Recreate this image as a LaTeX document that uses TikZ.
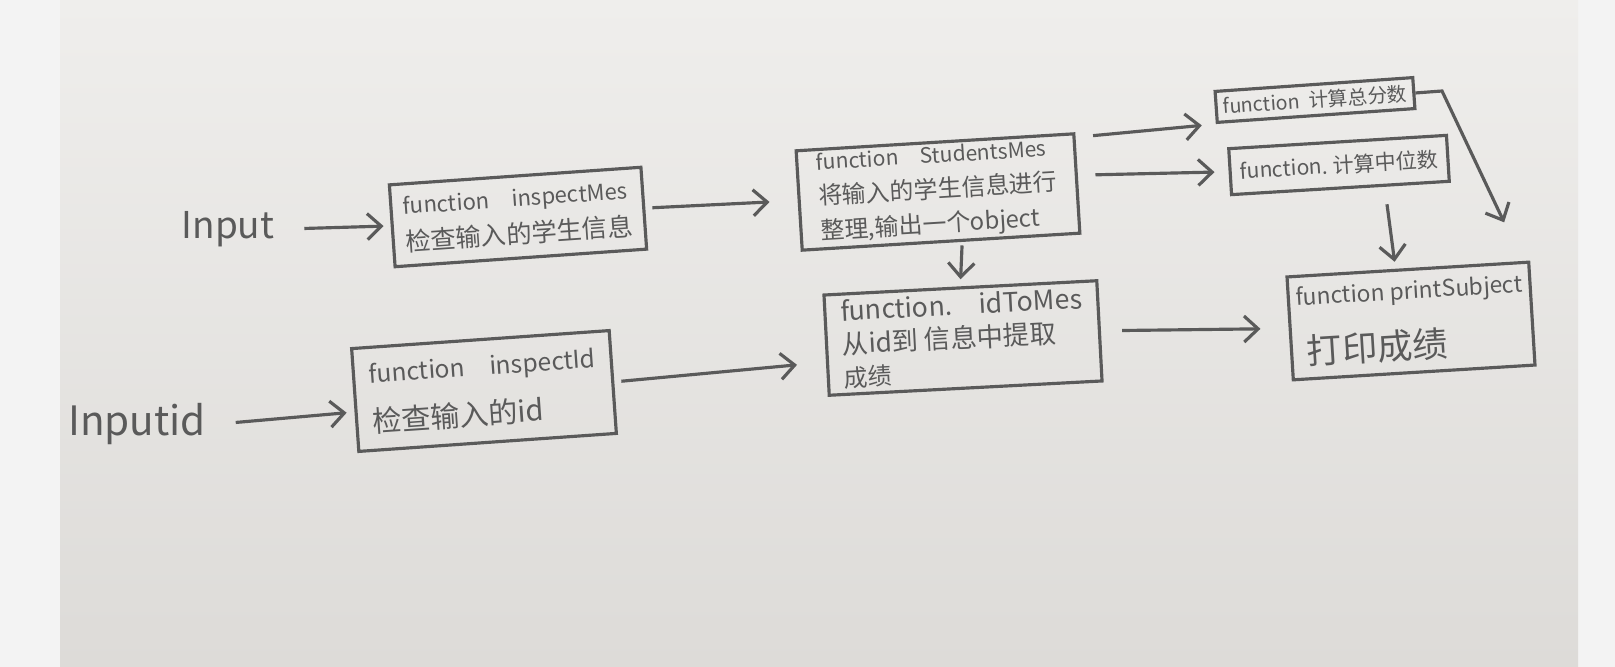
\documentclass[tikz,border=0pt]{standalone}
\usepackage{fontspec}
\newfontfamily\cjk{Noto Sans CJK SC}
\usetikzlibrary{arrows.meta,calc}
\definecolor{pencil}{HTML}{5A5A5A}
\definecolor{paperT}{HTML}{EFEEEC}
\definecolor{paperB}{HTML}{DDDBD8}
\definecolor{marginc}{HTML}{F3F3F3}
\newcommand{\fs}[1]{\fontsize{#1}{#1}\selectfont}
\begin{document}
\begin{tikzpicture}[x=0.01cm,y=-0.01cm,
  box/.style={draw=pencil,line width=0.9pt,text=pencil,font=\cjk\fontsize{7}{9}\selectfont,align=left,inner sep=1.5pt},
  lbl/.style={text=pencil,font=\cjk},
  arr/.style={draw=pencil,line width=0.9pt,-{Straight Barb[length=1.4mm,width=2.6mm]}}]
\useasboundingbox (0,0) rectangle (1615,667);
\fill[marginc] (0,0) rectangle (1615,667);
\shade[top color=paperT,bottom color=paperB] (60,0) rectangle (1578,667);

\node[lbl,font=\cjk\fs{10.5}] (in1) at (228,229) {Input};
\node[lbl,font=\cjk\fs{11.5}] (in2) at (137,424) {Inputid};

\node[box,rotate=4,minimum width=2.52cm,minimum height=0.82cm,font=\cjk\fontsize{7}{9.5}\selectfont] (b1) at (518,217)
  {{\fs{6.3}function\quad inspectMes}\\[1pt]{\fs{7.2}检查输入的学生信息}};
\node[box,rotate=3.5,minimum width=2.78cm,minimum height=0.91cm,inner sep=1pt,font=\cjk\fontsize{7}{8.4}\selectfont] (b2) at (938,192)
  {{\fs{6}function\quad StudentsMes}\\[1.5pt]{\fs{6.8}将输入的学生信息进行}\\[1.5pt]{\fs{6.8}整理,输出一个object}};
\node[box,rotate=4,minimum width=2.58cm,minimum height=1.03cm] (b3) at (484,391)
  {{\fs{7}function\quad inspectId}\\[5pt]{\fs{8.3}检查输入的id}};
\node[box,rotate=3,minimum width=2.73cm,minimum height=0.98cm,font=\cjk\fontsize{7}{9.4}\selectfont] (b4) at (963,338)
  {{\fs{7.6}function.\quad idToMes}\\{\fs{7.5}从id到\ 信息中提取}\\{\fs{6.8}成绩}};
\node[box,rotate=4,minimum width=1.98cm,minimum height=0.31cm,inner sep=1pt] (b5) at (1315,100)
  {{\fs{5.6}function\ \ 计算总分数}};
\node[box,rotate=3.5,minimum width=2.18cm,minimum height=0.46cm] (b6) at (1339,165)
  {{\fs{6}function.\ 计算中位数}};
\node[box,rotate=3.5,minimum width=2.42cm,minimum height=1.03cm] (b7) at (1411,321)
  {{\fs{6.5}function printSubject}\\[6pt]{\fs{10}\ 打印成绩}};

\coordinate (k) at (1442,91);

\draw[arr,shorten <=5pt,shorten >=2pt] (in1.east) -- (b1.west);
\draw[arr,shorten <=5pt,shorten >=2pt] (in2.east) -- ([yshift=-0.12cm]b3.west);
\draw[arr,shorten <=2pt,shorten >=8pt] (b1.east) -- (b2.west);
\draw[arr,shorten <=2pt,shorten >=8pt] (b3.east) -- ([yshift=-0.17cm]b4.west);
\draw[arr,shorten <=1pt,shorten >=2pt] ($(b2.south)!0.15!(b2.south east)$) -- ($(b4.north)!0.0!(b4.north east)$);
\draw[arr,shorten <=6pt,shorten >=8pt] (b4.east) -- (b7.west);
\draw[arr,shorten <=5pt,shorten >=4pt] ($(b2.north east)!0.05!(b2.south east)$) -- (b5.south west);
\draw[arr,shorten <=5pt,shorten >=4pt] ($(b2.north east)!0.42!(b2.south east)$) -- (b6.west);
\draw[arr,shorten <=5pt,shorten >=2pt] ($(b6.south)!0.4!(b6.south east)$) -- ($(b7.north west)!0.45!(b7.north east)$);
\draw[arr,shorten >=12pt] (b5.east) -- (k) -- ($(b7.north east)+(-8,0)$);
\end{tikzpicture}
\end{document}
